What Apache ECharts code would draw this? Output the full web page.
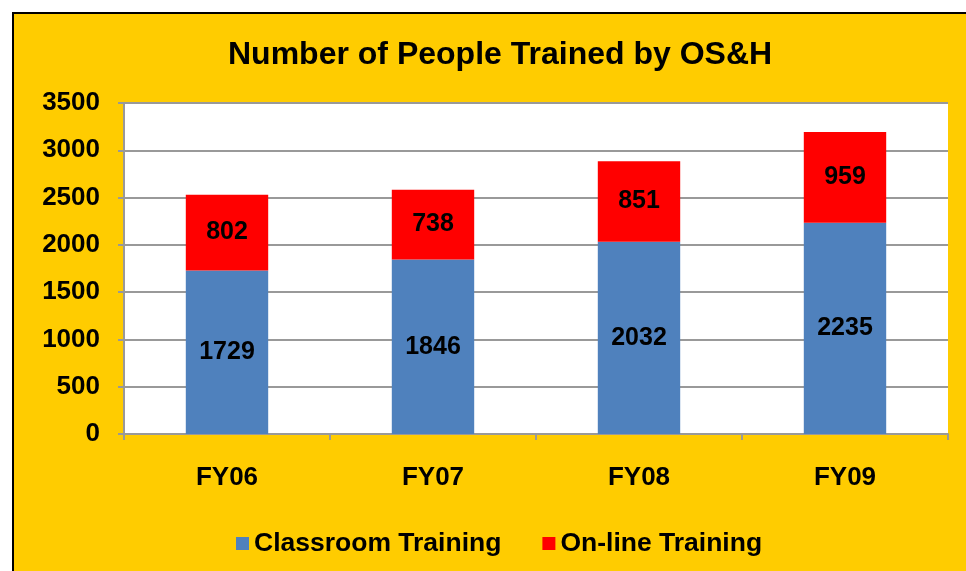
<!DOCTYPE html>
<html>
<head>
<meta charset="utf-8">
<script src="https://cdn.jsdelivr.net/npm/echarts@6/dist/echarts.min.js"></script>
<style>
  html, body { margin: 0; padding: 0; background: #fff; }
  #frame {
    position: absolute; left: 12px; top: 12px; width: 960px; height: 565px;
    background: #FFCC00; border-left: 2px solid #000; border-top: 2px solid #000;
  }
  #main { position: absolute; left: 0; top: 0; width: 966px; height: 571px; }
</style>
</head>
<body>
<div id="frame"></div>
<div id="main"></div>
<script>
var categories = ['FY06', 'FY07', 'FY08', 'FY09']
var classroom = [1729, 1846, 2032, 2235]
var online = [802, 738, 851, 959]

var font = 'Liberation Sans, Arial, sans-serif'
var chart = echarts.init(document.getElementById('main'))

var labelStyle = {
  show: true,
  position: 'inside',
  color: '#000',
  fontSize: 25,
  fontWeight: 'bold',
  fontFamily: font
}

chart.setOption({
  backgroundColor: 'transparent',
  title: {
    text: 'Number of People Trained by OS&H',
    left: 223,
    top: 34,
    textStyle: { fontSize: 32, fontWeight: 'bold', color: '#000', fontFamily: font }
  },
  legend: {
    bottom: 9,
    left: 231,
    itemWidth: 13,
    itemHeight: 13,
    itemGap: 41,
    icon: 'rect',
    textStyle: { fontSize: 26.5, fontWeight: 'bold', color: '#000', fontFamily: font },
    data: ['Classroom Training', 'On-line Training']
  },
  grid: {
    left: 124, right: 18, top: 103, bottom: 137,
    show: true, backgroundColor: '#fff', borderWidth: 0
  },
  xAxis: {
    type: 'category',
    data: categories,
    axisLine: { lineStyle: { color: '#999', width: 2 } },
    axisTick: { show: true, length: 6, lineStyle: { color: '#999', width: 2 } },
    axisLabel: { color: '#000', fontSize: 26, fontWeight: 'bold', fontFamily: font, margin: 31 }
  },
  yAxis: {
    type: 'value',
    min: 0,
    max: 3500,
    interval: 500,
    axisLine: { show: true, lineStyle: { color: '#999', width: 2 } },
    axisTick: { show: true, length: 6, lineStyle: { color: '#999', width: 2 } },
    splitLine: { lineStyle: { color: '#999', width: 2 } },
    axisLabel: {
      color: '#000', fontSize: 26, fontWeight: 'bold', fontFamily: font, margin: 24,
      formatter: function (v) { return String(v) }
    }
  },
  series: [
    {
      name: 'Classroom Training',
      type: 'bar',
      stack: 'total',
      barWidth: '40%',
      itemStyle: { color: '#4F81BD' },
      label: labelStyle,
      data: classroom
    },
    {
      name: 'On-line Training',
      type: 'bar',
      stack: 'total',
      barWidth: '40%',
      itemStyle: { color: '#FF0000' },
      label: labelStyle,
      data: online
    }
  ]
})
</script>
</body>
</html>
